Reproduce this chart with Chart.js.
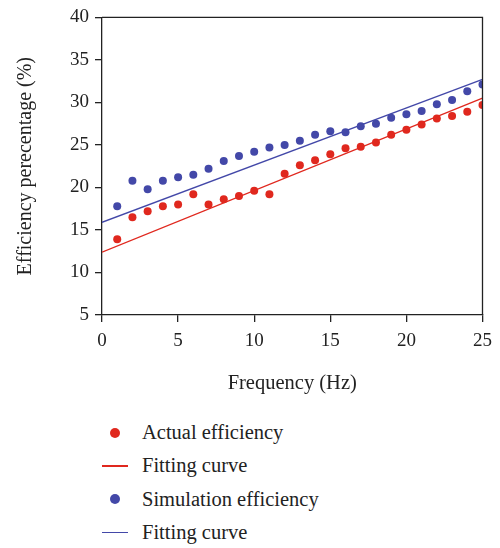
<!DOCTYPE html>
<html>
<head>
<meta charset="utf-8">
<title>Efficiency vs frequency</title>
<script src="https://cdn.jsdelivr.net/npm/chart.js@4.4.1/dist/chart.umd.min.js"></script>
<style>
    html, body { margin: 0; padding: 0; background: #fff; }
    #wrap { position: relative; width: 500px; height: 548px; overflow: hidden; }
    #chart-box { position: absolute; left: 0; top: 0; width: 500px; height: 400px; }
    #legend { position: absolute; left: 0; top: 416px; width: 500px; }
    .legend-row { position: relative; height: 33.3px; }
    .legend-mark { position: absolute; left: 102px; top: 0; width: 26px; height: 33.3px; }
    .legend-mark .dot { position: absolute; left: 8px; top: 11.5px; width: 10px; height: 10px; border-radius: 50%; }
    .legend-mark .line { position: absolute; left: 0; top: 16px; width: 26px; height: 1.4px; }
    .legend-text {
        position: absolute; left: 142px; top: 0; line-height: 33.3px;
        font-family: "Liberation Serif", "DejaVu Serif", serif; font-size: 20.5px; color: #222;
    }
</style>
</head>
<body>
<div id="wrap">
    <div id="chart-box"><canvas id="efficiency-chart"></canvas></div>
    <div id="legend"></div>
</div>
<script>
    // Data
    const frequency = [1, 2, 3, 4, 5, 6, 7, 8, 9, 10, 11, 12, 13, 14, 15, 16, 17, 18, 19, 20, 21, 22, 23, 24, 25];
    const actualEfficiency = [13.9, 16.5, 17.2, 17.8, 18.0, 19.2, 18.0, 18.6, 19.0, 19.6, 19.2, 21.6, 22.6, 23.2, 23.9,
        24.6, 24.8, 25.3, 26.2, 26.8, 27.4, 28.1, 28.4, 28.9, 29.7];
    const simulationEfficiency = [17.8, 20.8, 19.8, 20.8, 21.2, 21.5, 22.2, 23.1, 23.7, 24.2, 24.7, 25.0, 25.5, 26.2, 26.6,
        26.5, 27.2, 27.5, 28.2, 28.6, 29.0, 29.8, 30.3, 31.3, 32.1];
    const fitFrequency = [0, 25];
    const actualFit = [12.4, 30.5];
    const simulationFit = [15.9, 32.7];
    const xTicks = [0, 5, 10, 15, 20, 25];
    const yTicks = [5, 10, 15, 20, 25, 30, 35, 40];

    const RED = '#e0281e';
    const BLUE = '#4348a8';
    const FONT = '"Liberation Serif", "DejaVu Serif", serif';

    function toPoints(xs, ys) {
        return xs.map((x, i) => ({ x: x, y: ys[i] }));
    }

    // Closes the frame on the top and right sides
    const frameBox = {
        id: 'frameBox',
        afterDraw(chart) {
            const a = chart.chartArea;
            const ctx = chart.ctx;
            ctx.save();
            ctx.strokeStyle = '#222';
            ctx.lineWidth = 1.3;
            ctx.beginPath();
            ctx.moveTo(a.left, a.top);
            ctx.lineTo(a.right, a.top);
            ctx.lineTo(a.right, a.bottom);
            ctx.stroke();
            ctx.restore();
        }
    };

    // Vertical legend under the chart, built from the datasets
    const htmlLegend = {
        id: 'htmlLegend',
        afterUpdate(chart) {
            const box = document.getElementById('legend');
            box.innerHTML = '';
            chart.data.datasets.forEach(ds => {
                const row = document.createElement('div');
                row.className = 'legend-row';
                const mark = document.createElement('div');
                mark.className = 'legend-mark';
                const sym = document.createElement('div');
                if (ds.showLine) {
                    sym.className = 'line';
                    sym.style.background = ds.borderColor;
                } else {
                    sym.className = 'dot';
                    sym.style.background = ds.backgroundColor;
                }
                mark.appendChild(sym);
                const text = document.createElement('div');
                text.className = 'legend-text';
                text.textContent = ds.label;
                row.appendChild(mark);
                row.appendChild(text);
                box.appendChild(row);
            });
        }
    };

    const axisCommon = {
        type: 'linear',
        border: { display: true, color: '#222', width: 1.3 },
        grid: { display: true, drawOnChartArea: false, drawTicks: true, tickLength: 7, color: '#222', lineWidth: 1.3 },
        ticks: { color: '#222', font: { family: FONT, size: 19 } }
    };

    const ctx = document.getElementById('efficiency-chart').getContext('2d');
    new Chart(ctx, {
        type: 'scatter',
        data: {
            datasets: [{
                label: 'Actual efficiency',
                data: toPoints(frequency, actualEfficiency),
                backgroundColor: RED,
                borderColor: RED,
                pointRadius: 4,
                pointBorderWidth: 0
            }, {
                label: 'Fitting curve',
                data: toPoints(fitFrequency, actualFit),
                showLine: true,
                borderColor: RED,
                backgroundColor: RED,
                borderWidth: 1.3,
                pointRadius: 0
            }, {
                label: 'Simulation efficiency',
                data: toPoints(frequency, simulationEfficiency),
                backgroundColor: BLUE,
                borderColor: BLUE,
                pointRadius: 4,
                pointBorderWidth: 0
            }, {
                label: 'Fitting curve',
                data: toPoints(fitFrequency, simulationFit),
                showLine: true,
                borderColor: BLUE,
                backgroundColor: BLUE,
                borderWidth: 1.3,
                pointRadius: 0
            }]
        },
        options: {
            responsive: true,
            maintainAspectRatio: false,
            animation: false,
            layout: { padding: { top: 14, right: 16, left: 0, bottom: 0 } },
            plugins: {
                legend: { display: false },
                tooltip: { enabled: false }
            },
            scales: {
                x: Object.assign({}, axisCommon, {
                    min: 0,
                    max: 25,
                    afterBuildTicks: axis => { axis.ticks = xTicks.map(v => ({ value: v })); },
                    afterFit: axis => { axis.height = 85; },
                    ticks: Object.assign({}, axisCommon.ticks, { padding: 8 }),
                    title: {
                        display: true,
                        text: 'Frequency (Hz)',
                        color: '#222',
                        font: { family: FONT, size: 20.5 },
                        padding: { top: 12 }
                    }
                }),
                y: Object.assign({}, axisCommon, {
                    min: 5,
                    max: 40,
                    afterBuildTicks: axis => { axis.ticks = yTicks.map(v => ({ value: v })); },
                    afterFit: axis => { axis.width = 102; },
                    ticks: Object.assign({}, axisCommon.ticks, { padding: 6 }),
                    title: {
                        display: true,
                        text: 'Efficiency perecentage (%)',
                        color: '#222',
                        font: { family: FONT, size: 20 },
                        padding: { top: 14, bottom: 0 }
                    }
                })
            }
        },
        plugins: [frameBox, htmlLegend]
    });
</script>
</body>
</html>
